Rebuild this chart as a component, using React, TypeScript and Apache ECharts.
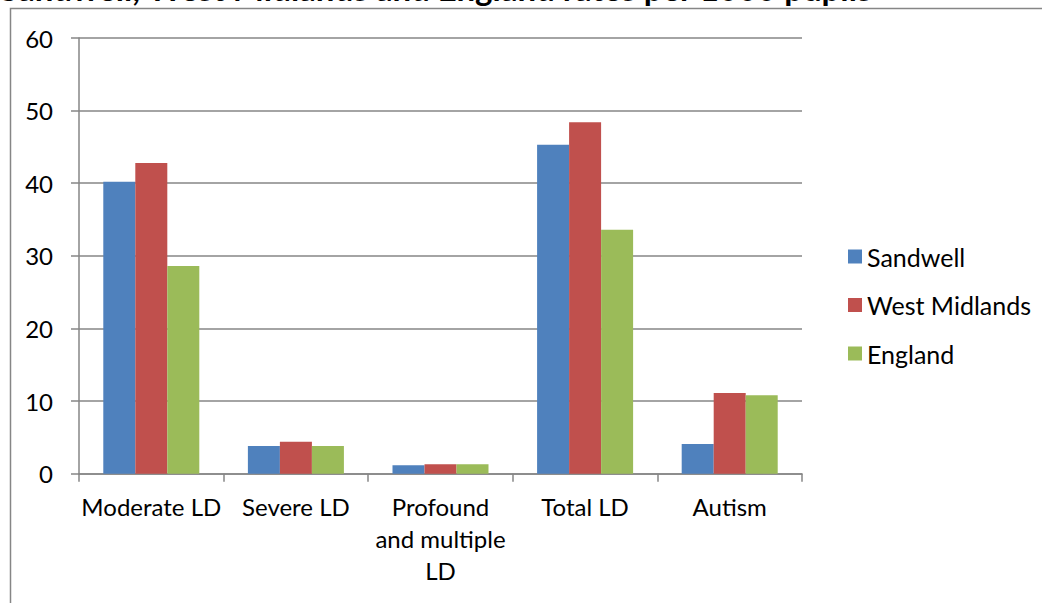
import React, { useEffect, useRef } from "react";
import * as echarts from "echarts";

const categories = ["Moderate LD", "Severe LD", "Profound\nand multiple\nLD", "Total LD", "Autism"];
const sandwell = [40.2, 3.8, 1.15, 45.3, 4.1];
const westMidlands = [42.8, 4.4, 1.3, 48.4, 11.1];
const england = [28.6, 3.8, 1.3, 33.6, 10.8];
const seriesNames = ["Sandwell", "West Midlands", "England"];
const colors = ["#4F81BD", "#C0504D", "#9BBB59"];
const titleText = "Sandwell, West Midlands and England rates per 1000 pupils";

const FONT = "Lato, 'Open Sans', sans-serif";

export default function App() {
  const ref = useRef<HTMLDivElement>(null);
  useEffect(() => {
    if (!ref.current) return;
    const chart = echarts.init(ref.current, undefined, { renderer: "svg" });
    const values = [sandwell, westMidlands, england];
    chart.setOption({
      animation: false,
      backgroundColor: "#ffffff",
      textStyle: { fontFamily: FONT, color: "#000" },
      graphic: [
        {
          type: "rect",
          shape: { x: 10.5, y: 8.5, width: 1200, height: 800 },
          style: { fill: "none", stroke: "#868686", lineWidth: 1.5 },
          silent: true,
        },
        {
          type: "text",
          x: 0,
          y: 4,
          style: {
            text: titleText,
            font: "bold 33px " + FONT,
            fill: "#000",
            textVerticalAlign: "bottom",
          },
          silent: true,
        },
      ],
      grid: { left: 79, right: 240, top: 38, bottom: 129.3, containLabel: false },
      legend: {
        orient: "vertical",
        left: 843,
        top: 239,
        itemWidth: 14,
        itemHeight: 14,
        itemGap: 23.5,
        icon: "rect",
        data: seriesNames,
        textStyle: { fontFamily: FONT, fontSize: 25, color: "#000", lineHeight: 25 },
      },
      xAxis: {
        type: "category",
        data: categories,
        axisLine: { show: true, lineStyle: { color: "#868686", width: 1.5 } },
        axisTick: { show: true, alignWithLabel: false, length: 8, lineStyle: { color: "#868686", width: 1.5 } },
        axisLabel: {
          interval: 0,
          margin: 17,
          fontFamily: FONT,
          fontSize: 24,
          lineHeight: 32,
          color: "#000",
        },
      },
      yAxis: {
        type: "value",
        min: 0,
        max: 60,
        interval: 10,
        axisLine: { show: true, lineStyle: { color: "#868686", width: 1.5 } },
        axisTick: { show: true, length: 8, lineStyle: { color: "#868686", width: 1.5 } },
        splitLine: { show: true, lineStyle: { color: "#868686", width: 1.5 } },
        axisLabel: { margin: 26, fontFamily: FONT, fontSize: 24, color: "#000" },
      },
      series: seriesNames.map((name, i) => ({
        name,
        type: "bar",
        data: values[i],
        barGap: "0%",
        barCategoryGap: "33.6%",
        itemStyle: { color: colors[i] },
      })),
    });
    return () => chart.dispose();
  }, []);
  return (
    <div
      ref={ref}
      style={{ position: "fixed", left: 0, top: 0, width: 1042, height: 603, background: "#fff" }}
    />
  );
}
